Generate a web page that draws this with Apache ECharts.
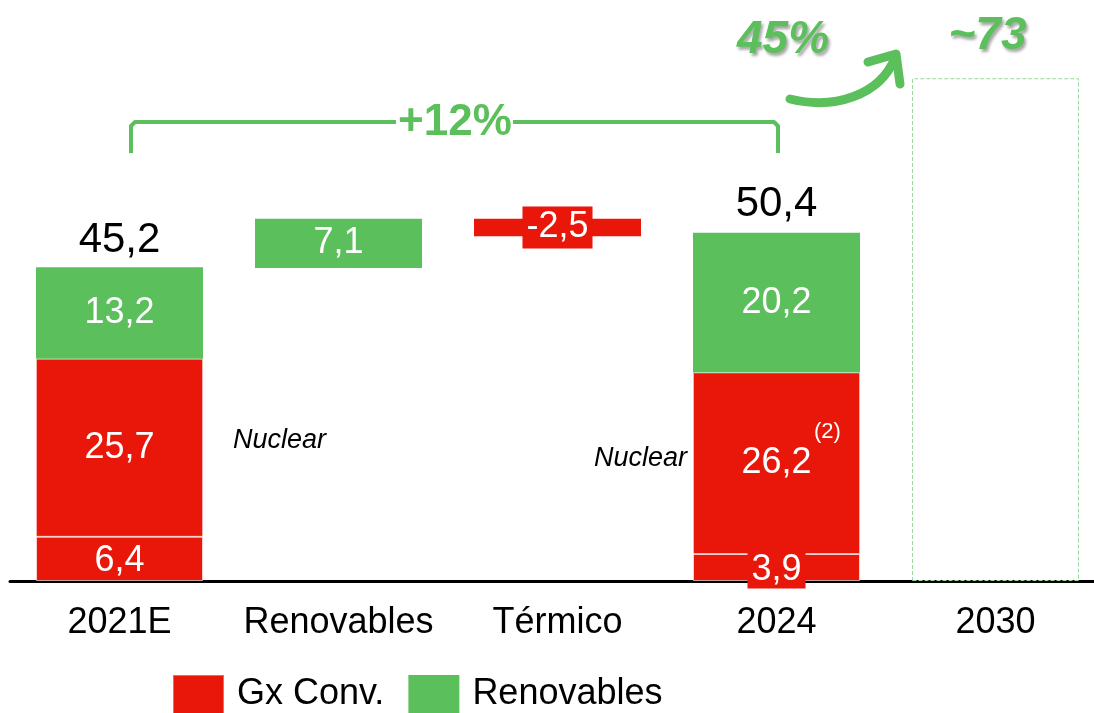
<!DOCTYPE html>
<html>
<head>
<meta charset="utf-8">
<script src="https://cdn.jsdelivr.net/npm/echarts@6/dist/echarts.min.js"></script>
<style>
  html, body { margin: 0; padding: 0; background: #fff; overflow: hidden; }
  #main { width: 1105px; height: 713px; }
</style>
</head>
<body>
<div id="main"></div>
<script>
// datos del gráfico (GW)
var categorias = ['2021E', 'Renovables', 'Térmico', '2024', '2030'];
var base      = [0, 45.2, 49.8, 0, 0];        // tramo invisible de la cascada
var nuclear   = [6.4, '-', '-', 3.9, '-'];
var gxConv    = [25.7, '-', '-', 26.2, '-'];
var renovables = [13.2, 7.1, '-', 20.2, '-'];
var termico   = ['-', '-', 2.5, '-', '-'];
var totales   = [45.2, '-', '-', 50.4, '-'];
var objetivo  = ['-', '-', '-', '-', 72.6];

var ROJO = '#E8170A';
var VERDE = '#5BBF5B';
var FUENTE = 'Liberation Sans, Arial, sans-serif';
var SOMBRA = {
    textShadowColor: 'rgba(0,0,0,0.35)', textShadowBlur: 3,
    textShadowOffsetX: 2, textShadowOffsetY: 3
};

function coma(v) {
    return String(v).replace('.', ',');
}

var myChart = echarts.init(document.getElementById('main'));

var etiquetaBlanca = {
    show: true,
    position: 'inside',
    color: '#fff',
    fontSize: 36,
    fontFamily: FUENTE,
    formatter: function (p) { return coma(p.value); }
};

option = {
    animation: false,
    textStyle: { fontFamily: FUENTE },
    grid: { left: 10, right: 0, top: 27, bottom: 132 },
    legend: {
        data: ['Gx Conv.', 'Renovables'],
        left: 172,
        top: 674,
        itemWidth: 51,
        itemHeight: 39,
        itemGap: 24,
        icon: 'rect',
        padding: 0,
        textStyle: { fontSize: 36, color: '#000', padding: [0, 0, 0, 8] }
    },
    xAxis: {
        type: 'category',
        data: categorias,
        axisLine: { lineStyle: { color: '#000', width: 3 } },
        axisTick: { show: false },
        axisLabel: { color: '#000', fontSize: 36, margin: 24, interval: 0 }
    },
    yAxis: {
        type: 'value',
        min: 0,
        max: 80,
        show: false
    },
    series: [
        {
            name: 'base',
            type: 'bar',
            stack: 'total',
            barWidth: 167,
            itemStyle: { color: 'transparent' },
            data: base
        },
        {
            name: 'Nuclear',
            type: 'bar',
            stack: 'total',
            itemStyle: { color: ROJO, borderColor: 'rgba(255,255,255,0.6)', borderWidth: 1 },
            label: Object.assign({}, etiquetaBlanca, {
                formatter: function (p) {
                    return p.dataIndex === 3 ? '{caja|' + coma(p.value) + '}' : coma(p.value);
                },
                rich: {
                    caja: {
                        color: '#fff', fontSize: 36, backgroundColor: ROJO,
                        padding: [2, 4, 0, 4], lineHeight: 34
                    }
                },
                offset: [0, 2]
            }),
            data: nuclear
        },
        {
            name: 'Gx Conv.',
            type: 'bar',
            stack: 'total',
            itemStyle: { color: ROJO, borderColor: 'rgba(255,255,255,0.35)', borderWidth: 1 },
            label: etiquetaBlanca,
            data: gxConv
        },
        {
            name: 'Renovables',
            type: 'bar',
            stack: 'total',
            itemStyle: { color: VERDE },
            label: etiquetaBlanca,
            data: renovables
        },
        {
            name: 'Térmico',
            type: 'bar',
            stack: 'total',
            itemStyle: { color: ROJO },
            label: {
                show: true,
                position: 'inside',
                color: '#fff',
                fontSize: 36,
                backgroundColor: ROJO,
                padding: [3, 4, 3, 4],
                formatter: function (p) { return '-' + coma(p.value); }
            },
            data: termico
        },
        {
            name: '2030',
            type: 'bar',
            stack: 'total',
            itemStyle: {
                color: 'rgba(255,255,255,0)',
                borderColor: '#9ED79E',
                borderWidth: 1,
                borderType: 'dashed'
            },
            label: Object.assign({
                show: true,
                position: 'top',
                distance: 19,
                offset: [-8, 0],
                color: VERDE,
                fontSize: 46,
                fontWeight: 'bold',
                fontStyle: 'italic',
                formatter: function (p) { return '~' + Math.round(p.value); }
            }, SOMBRA),
            data: objetivo
        },
        {
            name: 'total',
            type: 'scatter',
            symbolSize: 1,
            itemStyle: { color: 'rgba(255,255,255,0)' },
            label: {
                show: true,
                position: 'top',
                distance: 6,
                color: '#000000',
                opacity: 1,
                textBorderWidth: 0,
                fontSize: 42,
                formatter: function (p) { return coma(p.value); }
            },
            data: totales
        }
    ],
    graphic: [
        // corchete +12%
        {
            type: 'polyline',
            z: 100,
            shape: { points: [[131, 153], [131, 126], [135, 122], [396, 122]] },
            style: { stroke: VERDE, lineWidth: 4, fill: null, lineJoin: 'round' }
        },
        {
            type: 'polyline',
            z: 100,
            shape: { points: [[513, 122], [774, 122], [778, 126], [778, 153]] },
            style: { stroke: VERDE, lineWidth: 4, fill: null, lineJoin: 'round' }
        },
        {
            type: 'text',
            z: 100,
            x: 455, y: 123,
            style: {
                text: '+12%', fill: VERDE, font: 'bold 44px ' + FUENTE,
                align: 'center', verticalAlign: 'middle'
            }
        },
        // flecha 45%
        {
            type: 'bezierCurve',
            z: 100,
            shape: { x1: 790, y1: 99, cpx1: 835, cpy1: 110, cpx2: 880, cpy2: 95, x2: 895, y2: 58 },
            style: { stroke: VERDE, lineWidth: 9, lineCap: 'round', fill: null }
        },
        {
            type: 'polyline',
            z: 100,
            shape: { points: [[868, 62], [896, 54], [900, 84]] },
            style: { stroke: VERDE, lineWidth: 9, lineCap: 'round', lineJoin: 'round', fill: null }
        },
        {
            type: 'text',
            z: 100,
            x: 783, y: 40,
            style: Object.assign({
                text: '45%', fill: VERDE, font: 'italic bold 46px ' + FUENTE,
                align: 'center', verticalAlign: 'middle'
            }, SOMBRA)
        },
        // textos Nuclear
        {
            type: 'text',
            z: 100,
            left: 233, top: 427,
            style: { text: 'Nuclear', fill: '#000', font: 'italic 27px ' + FUENTE }
        },
        {
            type: 'text',
            z: 100,
            left: 594, top: 445,
            style: { text: 'Nuclear', fill: '#000', font: 'italic 27px ' + FUENTE }
        },
        {
            type: 'text',
            z: 100,
            left: 814, top: 421,
            style: { text: '(2)', fill: '#fff', font: '22px ' + FUENTE }
        }
    ]
};

myChart.setOption(option);
</script>
</body>
</html>
